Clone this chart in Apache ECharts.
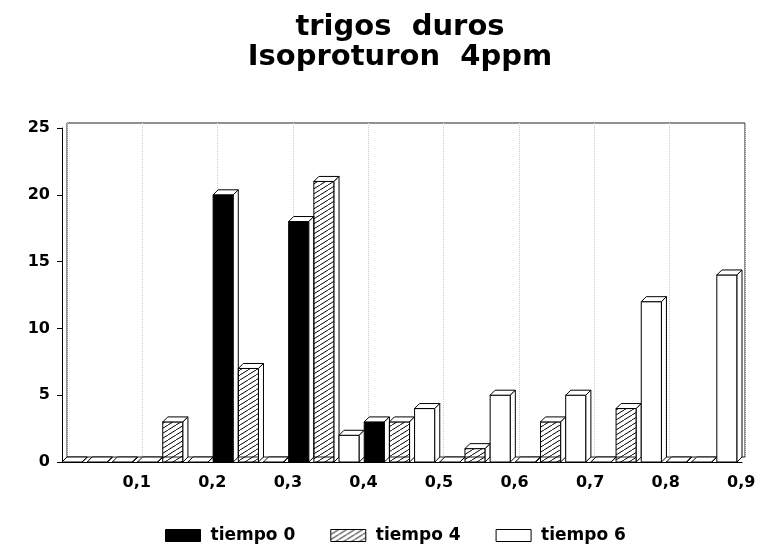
<!DOCTYPE html>
<html>
<head>
<meta charset="utf-8">
<script src="https://cdn.jsdelivr.net/npm/echarts@6/dist/echarts.min.js"></script>
<style>
html,body{margin:0;padding:0;background:#fff;}
#main{width:760px;height:558px;}
</style>
</head>
<body>
<div id="main"></div>
<script>
// datos
var categorias = ['0,1', '0,2', '0,3', '0,4', '0,5', '0,6', '0,7', '0,8', '0,9'];
var tiempo0 = [0, 0, 20, 18, 3, 0, 0, 0, 0];
var tiempo4 = [0, 3, 7, 21, 3, 1, 3, 4, 0];
var tiempo6 = [0, 0, 0, 2, 4, 5, 5, 12, 14];
var yTicks = [0, 5, 10, 15, 20, 25];

var FONT = 'DejaVu Sans';

// rayado para tiempo 4
var rayado = (function() {
	var w = 8, h = 5;
	var c = document.createElement('canvas');
	c.width = w; c.height = h;
	var ctx = c.getContext('2d');
	ctx.strokeStyle = '#000';
	ctx.lineWidth = 1;
	ctx.beginPath();
	ctx.moveTo(0, h); ctx.lineTo(w, 0);
	ctx.moveTo(-w, h); ctx.lineTo(0, 0);
	ctx.moveTo(w, h); ctx.lineTo(2 * w, 0);
	ctx.stroke();
	return {image: c, repeat: 'repeat'};
})();

var rellenos = ['#000', rayado, '#fff'];

// barra con efecto 3D
function barra3D(slot) {
	return function(params, api) {
		var cat = api.value(0), val = api.value(1);
		var base = api.coord([cat, 0]);
		var top = api.coord([cat, val]);
		var band = api.size([1, 0])[0];
		var w = band / 3;
		var d = 5;
		var x0 = base[0] - band / 2 + slot * w;
		var fw = w - d;
		var y0 = base[1], y1 = top[1];
		var linea = {stroke: '#000', lineWidth: 1};
		return {
			type: 'group',
			children: [
				{
					type: 'rect',
					shape: {x: x0, y: y1, width: fw, height: y0 - y1},
					style: {fill: rellenos[slot], stroke: '#000', lineWidth: 1}
				},
				{
					type: 'polygon',
					shape: {points: [[x0, y1], [x0 + d, y1 - d], [x0 + fw + d, y1 - d], [x0 + fw, y1]]},
					style: Object.assign({fill: '#fff'}, linea)
				},
				{
					type: 'polygon',
					shape: {points: [[x0 + fw, y1], [x0 + fw + d, y1 - d], [x0 + fw + d, y0 - d], [x0 + fw, y0]]},
					style: Object.assign({fill: '#fff'}, linea)
				}
			]
		};
	};
}

function datos(arr) {
	return arr.map(function(v, i) { return [i, v]; });
}

var myChart = echarts.init(document.getElementById('main'));

var option = {
	backgroundColor: '#fff',
	animation: false,
	title: {
		text: 'trigos  duros\nIsoproturon  4ppm',
		left: 400,
		textAlign: 'center',
		top: 12,
		padding: 0,
		textStyle: {
			fontFamily: FONT,
			fontWeight: 'bold',
			fontSize: 29,
			lineHeight: 30,
			color: '#000'
		}
	},
	legend: {
		left: 165,
		top: 527,
		padding: 0,
		itemWidth: 35,
		itemHeight: 12,
		itemGap: 35,
		textStyle: {fontFamily: FONT, fontWeight: 'bold', fontSize: 17, color: '#000', padding: [0, 0, 0, 5]},
		data: [
			{name: 'tiempo 0', icon: 'rect', itemStyle: {color: '#000', borderColor: '#000', borderWidth: 1}},
			{name: 'tiempo 4', icon: 'rect', itemStyle: {color: rayado, borderColor: '#000', borderWidth: 1}},
			{name: 'tiempo 6', icon: 'rect', itemStyle: {color: '#fff', borderColor: '#000', borderWidth: 1}}
		]
	},
	grid: [
		{left: 62, right: 18, top: 128, bottom: 96},
		{left: 67, right: 15, top: 123, bottom: 101, show: true, borderColor: '#222', borderWidth: 1, backgroundColor: 'transparent'}
	],
	xAxis: [
		{
			type: 'category',
			data: categorias,
			gridIndex: 0,
			axisLine: {lineStyle: {color: '#000', width: 1}},
			axisTick: {show: false},
			axisLabel: {
				color: '#000',
				fontFamily: FONT,
				fontWeight: 'bold',
				fontSize: 16,
				margin: 13,
				padding: [0, 0, 0, 74]
			}
		},
		{
			type: 'category',
			data: categorias,
			gridIndex: 1,
			axisLine: {show: false},
			axisTick: {show: false},
			axisLabel: {show: false},
			splitLine: {show: true, lineStyle: {color: '#ccc', type: 'dotted', width: 1}}
		}
	],
	yAxis: [
		{
			type: 'value',
			gridIndex: 0,
			min: yTicks[0],
			max: yTicks[yTicks.length - 1],
			interval: 5,
			axisLine: {show: true, lineStyle: {color: '#000', width: 1}},
			axisTick: {show: true, length: 5, lineStyle: {color: '#000'}},
			splitLine: {show: false},
			axisLabel: {
				color: '#000',
				fontFamily: FONT,
				fontWeight: 'bold',
				fontSize: 16,
				margin: 12
			}
		},
		{
			type: 'value',
			gridIndex: 1,
			min: 0,
			max: 25,
			show: false
		}
	],
	series: [
		{name: 'tiempo 0', type: 'custom', xAxisIndex: 0, yAxisIndex: 0, renderItem: barra3D(0),
			itemStyle: {color: '#000'}, encode: {x: 0, y: 1}, data: datos(tiempo0)},
		{name: 'tiempo 4', type: 'custom', xAxisIndex: 0, yAxisIndex: 0, renderItem: barra3D(1),
			itemStyle: {color: rayado}, encode: {x: 0, y: 1}, data: datos(tiempo4)},
		{name: 'tiempo 6', type: 'custom', xAxisIndex: 0, yAxisIndex: 0, renderItem: barra3D(2),
			itemStyle: {color: '#fff'}, encode: {x: 0, y: 1}, data: datos(tiempo6)}
	]
};

myChart.setOption(option);
</script>
</body>
</html>
